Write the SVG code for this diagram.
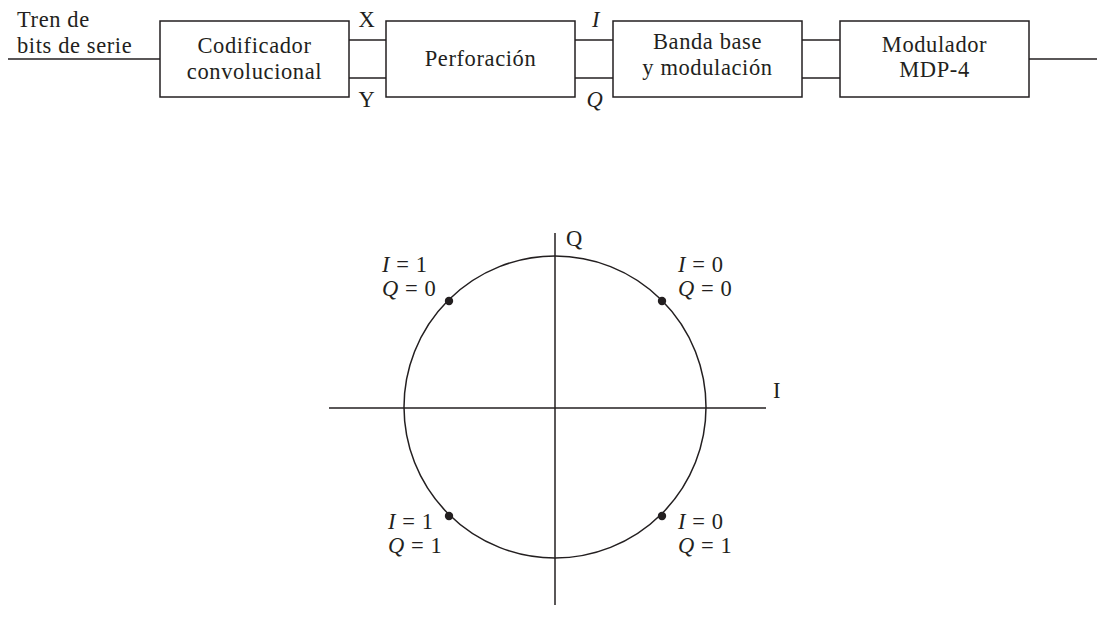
<svg xmlns="http://www.w3.org/2000/svg" width="1097" height="633" viewBox="0 0 1097 633">
<style>
.b{fill:#fff;stroke:#231f20;stroke-width:1.5}
.l{fill:none;stroke:#231f20;stroke-width:1.5}
text{font-family:"Liberation Serif","Times New Roman",serif;font-size:22.5px;fill:#231f20;letter-spacing:0.6px}
.c{text-anchor:middle}
.i{font-style:italic}
.d{fill:#231f20}
</style>
<rect width="1097" height="633" fill="#fff"/>
<g id="connectors">
<line class="l" x1="8" y1="59" x2="160" y2="59"/>
<line class="l" x1="349" y1="40" x2="386" y2="40"/>
<line class="l" x1="349" y1="78" x2="386" y2="78"/>
<line class="l" x1="575" y1="40" x2="613" y2="40"/>
<line class="l" x1="575" y1="78" x2="613" y2="78"/>
<line class="l" x1="802" y1="40" x2="840" y2="40"/>
<line class="l" x1="802" y1="78" x2="840" y2="78"/>
<line class="l" x1="1029" y1="59" x2="1097" y2="59"/>
</g>
<g id="input-label">
<text x="17" y="27">Tren de</text>
<text x="17" y="53">bits de serie</text>
</g>
<g id="codificador">
<rect class="b" x="160" y="21" width="189" height="76"/>
<text class="c" x="254.5" y="53">Codificador</text>
<text class="c" x="254.5" y="79">convolucional</text>
</g>
<g id="xy-labels">
<text class="c" x="367" y="27">X</text>
<text class="c" x="367" y="107">Y</text>
</g>
<g id="perforacion">
<rect class="b" x="386" y="21" width="189" height="76"/>
<text class="c" x="480.5" y="66">Perforación</text>
</g>
<g id="iq-labels">
<text class="c i" x="596" y="27">I</text>
<text class="c i" x="595" y="107">Q</text>
</g>
<g id="banda">
<rect class="b" x="613" y="21" width="189" height="76"/>
<text class="c" x="707.5" y="49">Banda base</text>
<text class="c" x="707.5" y="75">y modulación</text>
</g>
<g id="modulador">
<rect class="b" x="840" y="21" width="189" height="76"/>
<text class="c" x="934.5" y="52">Modulador</text>
<text class="c" x="934.5" y="77">MDP-4</text>
</g>
<g id="constellation">
<line class="l" x1="555" y1="233" x2="555" y2="605"/>
<line class="l" x1="329" y1="408" x2="766" y2="408"/>
<circle class="l" cx="555" cy="407" r="151"/>
<circle class="d" cx="449" cy="301" r="4.2"/>
<circle class="d" cx="662" cy="301" r="4.2"/>
<circle class="d" cx="449" cy="516" r="4.2"/>
<circle class="d" cx="662" cy="516" r="4.2"/>
<text x="566" y="246">Q</text>
<text x="773" y="398">I</text>
<text x="382" y="272"><tspan class="i">I</tspan> = 1</text>
<text x="382" y="296"><tspan class="i">Q</tspan> = 0</text>
<text x="678" y="272"><tspan class="i">I</tspan> = 0</text>
<text x="678" y="296"><tspan class="i">Q</tspan> = 0</text>
<text x="388" y="529"><tspan class="i">I</tspan> = 1</text>
<text x="388" y="553"><tspan class="i">Q</tspan> = 1</text>
<text x="678" y="529"><tspan class="i">I</tspan> = 0</text>
<text x="678" y="553"><tspan class="i">Q</tspan> = 1</text>
</g>
</svg>
